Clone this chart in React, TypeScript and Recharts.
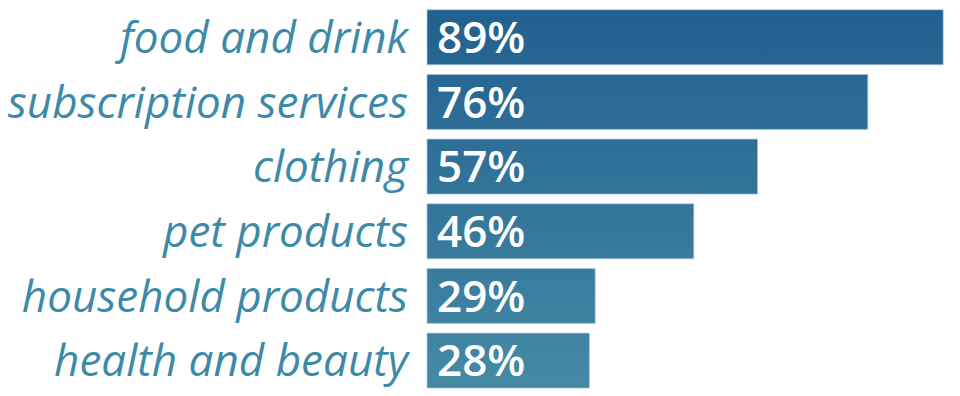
import { Bar, BarChart, LabelList, XAxis, YAxis } from "recharts"

const categories = [
  "food and drink",
  "subscription services",
  "clothing",
  "pet products",
  "household products",
  "health and beauty",
]

const shares = [89, 76, 57, 46, 29, 28]

const data = categories.map((name, i) => ({ name, share: shares[i] }))

const font = "'Open Sans', sans-serif"

export default function App() {
  return (
    <div style={{ position: "absolute", left: 0, top: 0 }}>
      <BarChart
        width={960}
        height={396}
        data={data}
        layout="vertical"
        margin={{ top: 5, right: 11, bottom: 3, left: 0 }}
        barCategoryGap="7.4%"
      >
        <defs>
          <linearGradient id="barFill" gradientUnits="userSpaceOnUse" x1="0" y1="10" x2="0" y2="388">
            <stop offset="0%" stopColor="#22608f" />
            <stop offset="100%" stopColor="#448aa6" />
          </linearGradient>
        </defs>
        <XAxis type="number" domain={[0, 90]} hide />
        <YAxis
          type="category"
          dataKey="name"
          width={427}
          axisLine={false}
          tickLine={false}
          tickSize={0}
          tickMargin={19}
          tick={{ fill: "#3d8aa8", fontSize: 44, fontStyle: "italic", fontFamily: font }}
        />
        <Bar
          dataKey="share"
          fill="url(#barFill)"
          stroke="#a7cbe0"
          strokeOpacity={0.7}
          strokeWidth={1}
          isAnimationActive={false}
        >
          <LabelList
            dataKey="share"
            position="insideLeft"
            offset={10}
            formatter={(v: any) => `${v}%`}
            fill="#ffffff"
            fontSize={44}
            fontWeight={600}
            fontFamily={font}
          />
        </Bar>
      </BarChart>
    </div>
  )
}
